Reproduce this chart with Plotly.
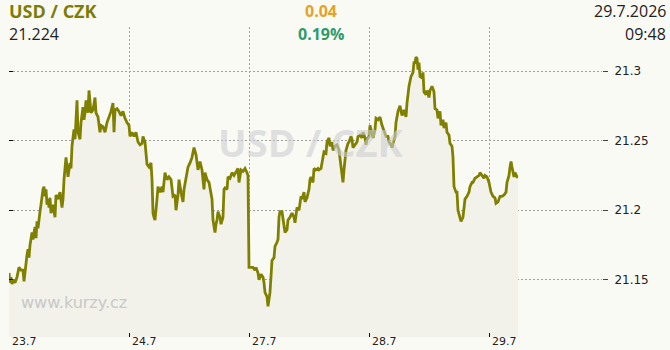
import plotly.graph_objects as go

# trading-time hours since 23.7 00:00 (weekend skipped)
hours = [
    0.0, 0.2, 0.4, 0.6, 0.8, 1.2, 1.6, 2.0, 2.4, 2.8, 3.0, 3.2, 3.6, 3.8, 4.0, 4.2, 4.6, 4.8, 5.0, 5.2,
    5.4, 5.6, 5.8, 6.0, 6.2, 6.4, 6.6, 6.8, 7.0, 7.2, 7.4, 7.6, 7.8, 8.0, 8.2, 8.4, 8.8, 9.2, 9.4, 9.8,
    10.2, 10.6, 10.8, 11.0, 11.4, 11.6, 11.8, 12.2, 12.4, 12.6, 13.0, 13.2, 13.4, 13.6, 13.8, 14.2, 14.4, 14.8, 15.0, 15.2,
    15.4, 15.8, 16.0, 16.2, 16.4, 16.8, 17.2, 17.4, 17.8, 18.2, 18.4, 18.8, 19.2, 19.6, 20.0, 20.4, 20.8, 21.0, 21.2, 21.6,
    22.0, 22.4, 22.8, 23.2, 23.6,
    24.0, 24.2, 24.6, 25.0, 25.4, 25.8, 26.2, 26.6, 26.8, 27.2, 27.4, 27.6, 28.0, 28.4, 28.6, 28.8, 29.0, 29.2, 29.6, 29.8,
    30.2, 30.6, 30.8, 31.2, 31.6, 32.0, 32.4, 32.6, 32.8, 33.2, 33.4, 33.8, 34.0, 34.4, 34.8, 35.0, 35.4, 35.8, 36.2, 36.6,
    37.0, 37.4, 37.8, 38.2, 38.6, 39.0, 39.2, 39.6, 40.0, 40.4, 40.6, 40.8, 41.0, 41.2, 41.4, 41.6, 41.8, 42.2, 42.4, 42.8,
    43.0, 43.2, 43.6, 43.8, 44.2, 44.6, 45.0, 45.4, 45.8, 46.0, 46.4, 46.8, 47.2, 47.6, 47.8,
    48.0, 48.4, 48.8, 49.2, 49.4, 49.8, 50.0, 50.4, 50.8, 51.0, 51.2, 51.6, 51.8, 52.2, 52.4, 52.6, 53.0, 53.2, 53.6, 53.8,
    54.0, 54.2, 54.6, 54.8, 55.2, 55.6, 55.8, 56.2, 56.6, 57.0, 57.2, 57.6, 58.0, 58.4, 58.6, 59.0, 59.2, 59.6, 60.0, 60.2,
    60.4, 60.8, 61.0, 61.4, 61.8, 62.0, 62.4, 62.8, 63.0, 63.4, 63.6, 64.0, 64.2, 64.6, 64.8, 65.2, 65.6, 66.0, 66.2, 66.4,
    66.6, 66.8, 67.0, 67.2, 67.4, 67.8, 68.0, 68.4, 68.6, 68.8, 69.2, 69.6, 69.8, 70.2, 70.6, 70.8, 71.2, 71.4, 71.6,
    72.0, 72.2, 72.6, 72.8, 73.2, 73.4, 73.8, 74.2, 74.6, 74.8, 75.0, 75.4, 75.8, 76.0, 76.4, 76.6, 76.8, 77.2, 77.4, 77.8,
    78.2, 78.6, 79.0, 79.4, 79.6, 80.0, 80.4, 80.8, 81.0, 81.2, 81.4, 81.6, 81.8, 82.0, 82.2, 82.6, 82.8, 83.0, 83.4, 83.6,
    84.0, 84.2, 84.6, 85.0, 85.2, 85.6, 85.8, 86.2, 86.4, 86.8, 87.0, 87.4, 87.6, 88.0, 88.2, 88.6, 88.8, 89.0, 89.4, 89.6,
    89.8, 90.2, 90.4, 90.8, 91.0, 91.2, 91.6, 92.0, 92.2, 92.6, 92.8, 93.2, 93.6, 94.0, 94.2, 94.6, 95.0, 95.2, 95.6, 96.0,
    96.2, 96.4, 96.8, 97.2, 97.4, 97.8, 98.2, 98.6, 99.0, 99.4, 99.6, 100.0, 100.2, 100.4, 100.6, 101.0, 101.2, 101.6, 101.8,
]

rate = [
    21.155, 21.148, 21.152, 21.147, 21.150, 21.148, 21.152, 21.159, 21.157, 21.157, 21.149, 21.157, 21.168, 21.172, 21.166, 21.175, 21.184, 21.179, 21.186, 21.188,
    21.180, 21.192, 21.187, 21.195, 21.199, 21.204, 21.211, 21.215, 21.217, 21.210, 21.215, 21.204, 21.208, 21.202, 21.209, 21.198, 21.204, 21.195, 21.211, 21.208,
    21.213, 21.202, 21.208, 21.222, 21.238, 21.231, 21.224, 21.234, 21.230, 21.246, 21.258, 21.251, 21.270, 21.279, 21.256, 21.251, 21.263, 21.274, 21.265, 21.270,
    21.279, 21.270, 21.286, 21.276, 21.270, 21.272, 21.281, 21.270, 21.267, 21.256, 21.261, 21.260, 21.256, 21.263, 21.267, 21.271, 21.277, 21.256, 21.272, 21.273,
    21.271, 21.268, 21.271, 21.266, 21.263,
    21.261, 21.253, 21.256, 21.253, 21.256, 21.249, 21.247, 21.248, 21.253, 21.249, 21.243, 21.233, 21.231, 21.234, 21.222, 21.198, 21.195, 21.193, 21.208, 21.217,
    21.213, 21.217, 21.213, 21.227, 21.222, 21.224, 21.222, 21.217, 21.210, 21.211, 21.200, 21.211, 21.222, 21.213, 21.206, 21.215, 21.224, 21.231, 21.234, 21.238,
    21.245, 21.240, 21.229, 21.235, 21.229, 21.215, 21.227, 21.222, 21.220, 21.213, 21.208, 21.193, 21.188, 21.184, 21.190, 21.193, 21.199, 21.195, 21.190, 21.195,
    21.215, 21.216, 21.215, 21.224, 21.223, 21.227, 21.225, 21.228, 21.230, 21.220, 21.229, 21.228, 21.230, 21.227, 21.225,
    21.159, 21.159, 21.159, 21.157, 21.159, 21.155, 21.150, 21.154, 21.152, 21.148, 21.141, 21.138, 21.131, 21.141, 21.155, 21.164, 21.166, 21.174, 21.177, 21.179,
    21.195, 21.199, 21.199, 21.193, 21.184, 21.186, 21.193, 21.195, 21.198, 21.195, 21.191, 21.202, 21.200, 21.210, 21.208, 21.213, 21.206, 21.209, 21.215, 21.222,
    21.224, 21.220, 21.230, 21.229, 21.230, 21.229, 21.230, 21.238, 21.242, 21.241, 21.249, 21.252, 21.246, 21.249, 21.243, 21.246, 21.247, 21.243, 21.238, 21.231,
    21.225, 21.220, 21.229, 21.238, 21.243, 21.248, 21.249, 21.253, 21.251, 21.245, 21.247, 21.249, 21.253, 21.254, 21.252, 21.256, 21.252, 21.247, 21.251,
    21.253, 21.261, 21.256, 21.252, 21.258, 21.266, 21.265, 21.267, 21.261, 21.259, 21.256, 21.253, 21.253, 21.249, 21.247, 21.245, 21.248, 21.253, 21.263, 21.271,
    21.275, 21.268, 21.272, 21.267, 21.277, 21.289, 21.296, 21.299, 21.306, 21.306, 21.310, 21.309, 21.301, 21.306, 21.296, 21.295, 21.299, 21.285, 21.283, 21.286,
    21.281, 21.286, 21.289, 21.285, 21.273, 21.272, 21.266, 21.271, 21.261, 21.265, 21.259, 21.263, 21.256, 21.254, 21.248, 21.246, 21.238, 21.217, 21.213, 21.213,
    21.200, 21.193, 21.192, 21.195, 21.200, 21.208, 21.210, 21.213, 21.217, 21.220, 21.220, 21.223, 21.224, 21.225, 21.227, 21.225, 21.223, 21.225, 21.224, 21.220,
    21.217, 21.213, 21.210, 21.209, 21.205, 21.206, 21.210, 21.210, 21.211, 21.213, 21.220, 21.225, 21.231, 21.235, 21.231, 21.224, 21.227, 21.224, 21.224,
]

tick_hours = [0, 24, 48, 72, 96]
tick_labels = ["23.7", "24.7", "27.7", "28.7", "29.7"]
y_ticks = [21.15, 21.2, 21.25, 21.3]

pair = "USD / CZK"
last_rate = "21.224"
change_abs = "0.04"
change_pct = "0.19%"
date_txt = "29.7.2026"
time_txt = "09:48"
site = "www.kurzy.cz"

BG = "#fafaf5"
OLIVE = "#808000"
GRID = "#a0a0a0"
GRIDDASH = "2px,2px"

fig = go.Figure()
fig.add_trace(go.Scatter(
    x=hours, y=rate, mode="lines",
    line=dict(color=OLIVE, width=2.8),
    fill="tozeroy", fillcolor="#f2f2ea",
    hoverinfo="skip", showlegend=False,
))

x_range = [0, 118.6]
y_range = [21.109, 21.3316]

fig.update_layout(
    width=670, height=350,
    margin=dict(l=9, r=68, t=27, b=13, autoexpand=False),
    paper_bgcolor=BG, plot_bgcolor=BG,
    showlegend=False,
    xaxis=dict(
        range=x_range, tickvals=tick_hours, ticktext=tick_labels,
        showgrid=True, gridcolor=GRID, griddash=GRIDDASH, gridwidth=1,
        ticks="", showticklabels=False,
        zeroline=False, showline=False, fixedrange=True, automargin=False,
    ),
    xaxis2=dict(
        range=x_range, tickvals=tick_hours,
        overlaying="x", side="bottom", anchor="y",
        showgrid=False,
        ticks="inside", ticklen=4, tickcolor="#111", tickwidth=1,
        showticklabels=False,
        zeroline=False, showline=False, fixedrange=True, automargin=False,
    ),
    yaxis=dict(
        range=y_range, tickvals=y_ticks, side="right",
        showgrid=True, gridcolor=GRID, griddash=GRIDDASH, gridwidth=1,
        ticks="outside", ticklen=5, tickcolor="#444", tickwidth=1,
        ticklabelstandoff=4,
        tickfont=dict(family="DejaVu Sans", size=12, color="#222"),
        zeroline=False, showline=False, fixedrange=True, automargin=False,
    ),
    yaxis2=dict(
        range=y_range, tickvals=y_ticks, side="left", overlaying="y",
        showgrid=False, ticks="inside", ticklen=4, tickcolor="#111", tickwidth=1,
        showticklabels=False, zeroline=False, showline=False, fixedrange=True,
        automargin=False,
    ),
)

# invisible helper traces so the secondary tick axes are rendered
fig.add_trace(go.Scatter(x=[hours[0]], y=[rate[0]], yaxis="y2", mode="markers",
                         marker=dict(opacity=0), hoverinfo="skip", showlegend=False))
fig.add_trace(go.Scatter(x=[hours[0]], y=[rate[0]], xaxis="x2", mode="markers",
                         marker=dict(opacity=0), hoverinfo="skip", showlegend=False))

def px_x(px):
    return (px - 9) / 593.0

def px_y(py):
    return (337 - py) / 310.0

ann = [
    dict(text=pair, x=px_x(7), y=px_y(11.5), xanchor="left", yanchor="middle",
         font=dict(family="Open Sans", size=18, color="#7d7d05", weight="bold")),
    dict(text=last_rate, x=px_x(7), y=px_y(33.5), xanchor="left", yanchor="middle",
         font=dict(family="Open Sans", size=16, color="#222")),
    dict(text=change_abs, x=px_x(321), y=px_y(11.5), xanchor="center", yanchor="middle",
         font=dict(family="Open Sans", size=16, color="#e4a325", weight="bold")),
    dict(text=change_pct, x=px_x(321), y=px_y(33.5), xanchor="center", yanchor="middle",
         font=dict(family="Open Sans", size=16, color="#2e9a6a", weight="bold")),
    dict(text=date_txt, x=px_x(668), y=px_y(11.5), xanchor="right", yanchor="middle",
         font=dict(family="Open Sans", size=16, color="#222")),
    dict(text=time_txt, x=px_x(668), y=px_y(33.5), xanchor="right", yanchor="middle",
         font=dict(family="Open Sans", size=16, color="#222")),
    dict(text=pair, x=px_x(310), y=px_y(142), xanchor="center", yanchor="middle",
         font=dict(family="Open Sans", size=38, color="rgba(205,205,210,0.6)", weight="bold")),
    dict(text=site, x=px_x(19), y=px_y(302), xanchor="left", yanchor="middle",
         font=dict(family="DejaVu Sans", size=16, color="#c8c8c8")),
]
for a in ann:
    a.update(xref="paper", yref="paper", showarrow=False)

# x tick labels, left-aligned just right of each tick, flush with the bottom edge
for hv, lab in zip(tick_hours, tick_labels):
    ann.append(dict(text=lab, x=hv, xref="x", xanchor="left", xshift=1,
                    y=px_y(350), yref="paper", yanchor="bottom", showarrow=False,
                    font=dict(family="DejaVu Sans", size=11, color="#222")))

fig.update_layout(annotations=ann)

fig.write_html("out.html")
